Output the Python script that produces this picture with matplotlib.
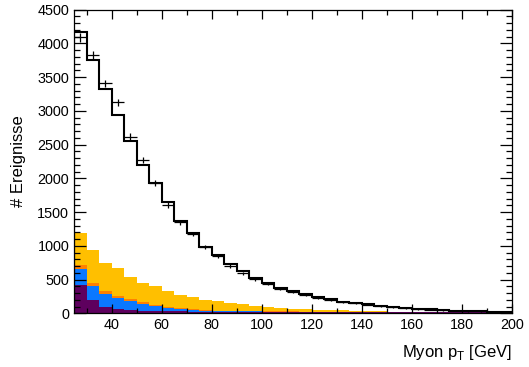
import numpy as np
import matplotlib
matplotlib.use('Agg')
import matplotlib.pyplot as plt
from matplotlib.ticker import MultipleLocator

plt.rcParams['font.family'] = ['Liberation Sans', 'DejaVu Sans']
plt.rcParams['mathtext.fontset'] = 'custom'
plt.rcParams['mathtext.rm'] = 'Liberation Sans'

# bin edges in GeV (5 GeV bins from 25 to 200)
edges = np.arange(25, 201, 5)

# stacked backgrounds, bottom to top
purple = [421, 200, 101, 60, 45, 38, 34, 32, 30, 29, 28, 28, 27, 27, 26, 26, 25, 25,
          24, 24, 23, 23, 22, 22, 21, 21, 20, 20, 19, 19, 18, 18, 17, 17, 16]
blue = [232, 207, 187, 164, 140, 102, 72, 49, 32, 18, 12, 8, 6, 5, 4, 3, 3, 2,
        2, 1, 2, 1, 1, 1, 1, 1, 1, 1, 1, 1, 1, 0, 1, 0, 1]
orange = [64, 49, 50, 40, 29, 25, 20, 20, 14, 15, 10, 8, 7, 6, 5, 4, 4, 3,
          3, 3, 2, 2, 2, 1, 1, 1, 1, 1, 1, 1, 1, 1, 1, 1, 1]
yellow = [469, 483, 414, 414, 331, 291, 281, 237, 198, 177, 150, 146, 110, 102, 76, 58, 49, 37,
          33, 29, 25, 21, 17, 13, 9, 6, 5, 3, 3, 2, 2, 2, 1, 1, 0]

# total prediction (black line)
total = [4160, 3750, 3321, 2936, 2552, 2197, 1935, 1654, 1368, 1186, 988, 865, 728, 633, 521, 447, 382, 333,
         290, 245, 210, 170, 155, 136, 111, 92, 81, 67, 62, 52, 41, 37, 33, 29, 25]

# measured data
data = [4086, 3824, 3405, 3124, 2615, 2271, 1930, 1605, 1349, 1176, 988, 856, 703, 595, 510, 436, 362, 322,
        274, 234, 205, 165, 150, 130, 105, 90, 78, 65, 58, 50, 40, 35, 30, 27, 22]

fig = plt.figure(figsize=(5.29, 3.67), dpi=100)
ax = fig.add_axes([0.1399, 0.1458, 0.828, 0.8283])

colors = ['#5e005e', '#0a78ff', '#ff8000', '#ffbf00']
bottom = np.zeros(len(edges) - 1)
for comp, col in zip([purple, blue, orange, yellow], colors):
    top = bottom + np.array(comp)
    ax.stairs(top, edges, baseline=bottom, fill=True, color=col, lw=0)
    bottom = top

ax.stairs(total, edges, color='k', lw=1.5)

centers = 0.5 * (edges[:-1] + edges[1:])
data = np.array(data)
ax.errorbar(centers, data, xerr=2.5, yerr=np.sqrt(data), fmt='none', ecolor='k', elinewidth=0.9)

ax.set_xlim(25, 200)
ax.set_ylim(0, 4500)
ax.xaxis.set_major_locator(MultipleLocator(20))
ax.xaxis.set_minor_locator(MultipleLocator(10))
ax.yaxis.set_major_locator(MultipleLocator(500))
ax.yaxis.set_minor_locator(MultipleLocator(100))
ax.tick_params(which='both', direction='in', top=True, right=True, labelsize=10.4, width=0.9)
ax.tick_params(axis='y', which='major', length=8.5)
ax.tick_params(axis='y', which='minor', length=4.3)
ax.tick_params(axis='x', which='major', length=6.5)
ax.tick_params(axis='x', which='minor', length=3.5)
for s in ax.spines.values():
    s.set_linewidth(0.9)

ax.set_ylabel('# Ereignisse', fontsize=12, labelpad=8)
ax.set_xlabel(r'Myon p$_\mathregular{T}$ [GeV]', fontsize=12, loc='right', labelpad=8)

fig.savefig('out.png', dpi=100)
